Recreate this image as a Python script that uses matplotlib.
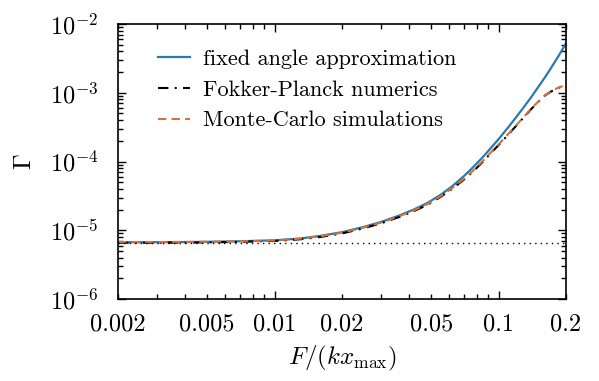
import matplotlib
matplotlib.use('Agg')
import matplotlib.pyplot as plt
from matplotlib.ticker import FuncFormatter

plt.rcParams['font.family'] = 'serif'
plt.rcParams['font.serif'] = ['cmr10']
plt.rcParams['mathtext.fontset'] = 'cm'
plt.rcParams['axes.unicode_minus'] = False
plt.rcParams['axes.formatter.use_mathtext'] = True

# values
force = [0.002, 0.003, 0.004, 0.005, 0.007, 0.01, 0.013, 0.016, 0.02, 0.025,
         0.03, 0.036, 0.042, 0.048, 0.055, 0.062, 0.07, 0.077, 0.085, 0.092,
         0.1, 0.11, 0.12, 0.13, 0.14, 0.148, 0.155, 0.162, 0.17, 0.185, 0.2]
gamma_fixed = [6.7e-6, 6.72e-6, 6.75e-6, 6.8e-6, 6.93e-6, 7.15e-6, 7.6e-6, 8.3e-6,
               9.4e-6, 1.12e-5, 1.33e-5, 1.64e-5, 2.02e-5, 2.49e-5, 3.27e-5,
               4.36e-5, 6.14e-5, 8.28e-5, 1.16e-4, 1.55e-4, 2.12e-4, 3.1e-4,
               4.45e-4, 6.27e-4, 8.69e-4, 1.13e-3, 1.4e-3, 1.73e-3, 2.2e-3,
               3.42e-3, 5.25e-3]
gamma_fp = [6.6e-6, 6.61e-6, 6.63e-6, 6.67e-6, 6.8e-6, 7.0e-6, 7.4e-6, 8.0e-6,
            9.0e-6, 1.07e-5, 1.27e-5, 1.56e-5, 1.91e-5, 2.34e-5, 3.05e-5,
            4.0e-5, 5.45e-5, 7.2e-5, 9.9e-5, 1.31e-4, 1.74e-4, 2.43e-4,
            3.33e-4, 4.45e-4, 5.82e-4, 7.0e-4, 8.15e-4, 9.25e-4, 1.03e-3,
            1.18e-3, 1.3e-3]
gamma_mc = [6.75e-6, 6.76e-6, 6.78e-6, 6.82e-6, 6.92e-6, 7.12e-6, 7.55e-6, 8.2e-6,
            9.25e-6, 1.1e-5, 1.3e-5, 1.6e-5, 1.96e-5, 2.4e-5, 3.12e-5,
            4.1e-5, 5.6e-5, 7.4e-5, 1.02e-4, 1.34e-4, 1.78e-4, 2.48e-4,
            3.39e-4, 4.52e-4, 5.9e-4, 7.08e-4, 8.22e-4, 9.33e-4, 1.04e-3,
            1.19e-3, 1.3e-3]
gamma_zero = 6.45e-6

xticks_labelled = [0.002, 0.005, 0.01, 0.02, 0.05, 0.1, 0.2]

fig, ax = plt.subplots(figsize=(5.99, 3.81), dpi=100)
fig.subplots_adjust(left=0.197, right=0.945, top=0.937, bottom=0.215)

ax.plot(force, gamma_fixed, color='#2a79b0', lw=1.6, label='fixed angle approximation')
ax.plot(force, gamma_fp, color='black', lw=1.5, ls=(0, (5, 3, 1, 3)),
        label='Fokker-Planck numerics')
ax.plot(force, gamma_mc, color='#d4703a', lw=1.5, ls=(0, (4, 2.5)),
        label='Monte-Carlo simulations')
ax.axhline(gamma_zero, color='black', lw=1.0, ls=(0, (1, 3)))

ax.set_xscale('log')
ax.set_yscale('log')
ax.set_xlim(0.002, 0.2)
ax.set_ylim(1e-6, 1e-2)


def xfmt(v, pos):
    for t in xticks_labelled:
        if abs(v - t) / t < 1e-6:
            return '%g' % t
    return ''


ax.xaxis.set_major_formatter(FuncFormatter(xfmt))
ax.xaxis.set_minor_formatter(FuncFormatter(xfmt))

ax.tick_params(which='both', direction='in', top=True, right=True,
               labelsize=17.5, width=1.0)
ax.tick_params(which='major', length=6)
ax.tick_params(which='minor', length=3.5)
ax.tick_params(axis='x', which='both', pad=10)
ax.tick_params(axis='y', which='both', pad=14)
for s in ax.spines.values():
    s.set_linewidth(1.2)

ax.set_xlabel(r'$F/(kx_{\rm max})$', fontsize=18, labelpad=6)
ax.set_ylabel(r'$\Gamma$', fontsize=18, labelpad=10)

ax.legend(loc='upper left', frameon=False, fontsize=16, handlelength=1.45,
          handletextpad=0.55, labelspacing=0.5, bbox_to_anchor=(0.045, 0.98))

fig.savefig('out.png', dpi=100)
